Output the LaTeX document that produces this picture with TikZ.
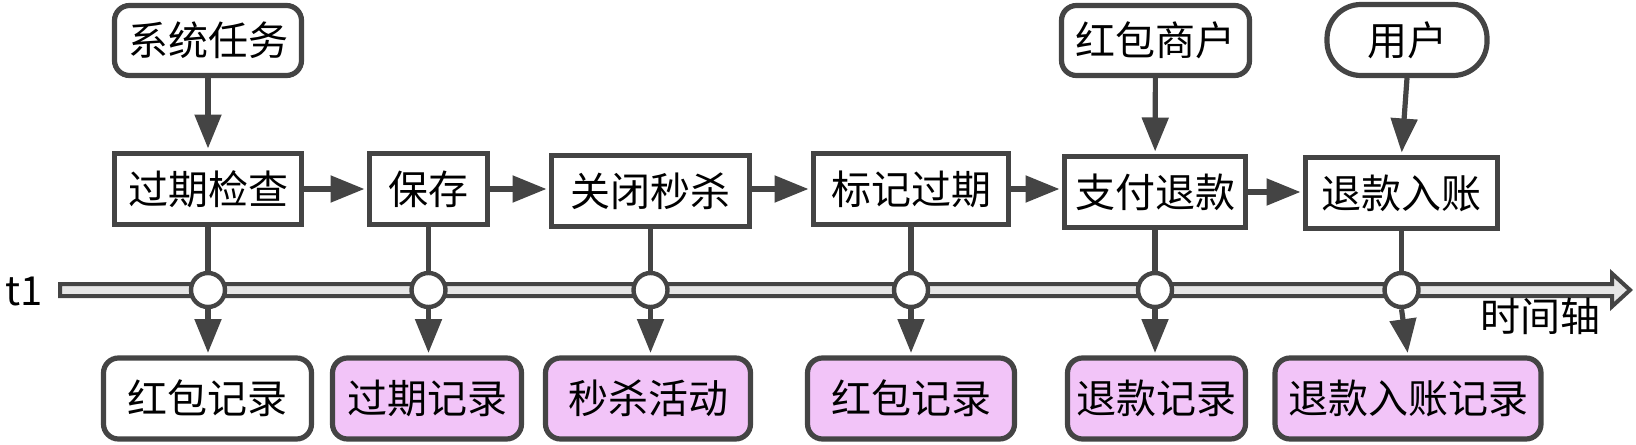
\documentclass[tikz,border=0pt]{standalone}
\usepackage{fontspec}
\setmainfont{Noto Sans CJK SC}
\usetikzlibrary{arrows.meta}
\definecolor{ln}{HTML}{444444}
\definecolor{pk}{HTML}{F2C4F8}
\definecolor{tl}{HTML}{E6E6E6}
\tikzset{
  base/.style={draw=ln, line width=2.6pt, inner sep=0pt, text=black,
               font=\fontsize{20pt}{24pt}\selectfont},
  rbox/.style={base, rounded corners=7.5pt, fill=white, minimum height=35pt},
  sbox/.style={base, fill=white, minimum height=35.5pt},
  pbox/.style={base, rounded corners=7.5pt, fill=pk, minimum height=40.5pt},
  wbox/.style={base, rounded corners=7.5pt, fill=white, minimum height=40.5pt},
  dot/.style={circle, draw=ln, line width=2.2pt, fill=white, minimum size=17pt, inner sep=0pt},
  conn/.style={draw=ln, line width=2.6pt},
  arr/.style={conn, -{Triangle[length=17pt,width=13pt]}, shorten >=1.2pt},
  lbl/.style={inner sep=0pt, text=black, font=\fontsize{20pt}{24pt}\selectfont},
}
\begin{document}
\begin{tikzpicture}[x=0.5pt,y=-0.5pt]
\useasboundingbox (0,0) rectangle (1636,444);
% timeline
\draw[fill=tl, draw=ln, line width=2pt, line join=miter]
  (60,284) -- (1612,284) -- (1612,273.5) -- (1630,290) -- (1612,306.5)
  -- (1612,296) -- (60,296) -- cycle;
\node[lbl] (t1) at (24,291) {t1};
\node[lbl] (axis) at (1540,316) {时间轴};
% top row
\node[rbox, minimum width=93.5pt] (sys) at (208,40.5) {系统任务};
\node[rbox, minimum width=94pt] (mer) at (1155.5,40.5) {红包商户};
\node[rbox, minimum width=80pt, minimum height=35.5pt, rounded corners=17pt] (usr) at (1407,40) {用户};
% middle row
\node[sbox, minimum width=93.5pt] (chk) at (208,189) {过期检查};
\node[sbox, minimum width=59pt] (sav) at (428.5,189) {保存};
\node[sbox, minimum width=99pt] (cls) at (650.5,191) {关闭秒杀};
\node[sbox, minimum width=97.5pt] (mrk) at (911,189) {标记过期};
\node[sbox, minimum width=90.5pt] (pay) at (1155,192) {支付退款};
\node[sbox, minimum width=96pt] (inc) at (1401.5,193) {退款入账};
% circles on timeline
\node[dot] (c1) at (208,290) {};
\node[dot] (c2) at (428.5,290) {};
\node[dot] (c3) at (650.5,290) {};
\node[dot] (c4) at (911,290) {};
\node[dot] (c5) at (1155,290) {};
\node[dot] (c6) at (1401.5,290) {};
% bottom row
\node[wbox, minimum width=104pt] (b1) at (207.5,398.5) {红包记录};
\node[pbox, minimum width=94.5pt] (b2) at (427,398.5) {过期记录};
\node[pbox, minimum width=102.5pt] (b3) at (648,398.5) {秒杀活动};
\node[pbox, minimum width=103.5pt] (b4) at (911,398.5) {红包记录};
\node[pbox, minimum width=89pt] (b5) at (1156.5,398.5) {退款记录};
\node[pbox, minimum width=133pt] (b6) at (1408,398.5) {退款入账记录};
% connectors
\draw[arr] (sys) -- (chk);
\draw[arr] (mer) -- (pay);
\draw[arr] (usr.south) -- (inc.north);
\draw[arr] (chk) -- (sav);
\draw[arr] (sav) -- (sav -| cls.west);
\draw[arr] (cls.east |- mrk) -- (mrk);
\draw[arr] (mrk) -- (mrk -| pay.west);
\draw[arr] (pay) -- (pay -| inc.west);
\draw[conn] (chk) -- (c1);
\draw[conn] (sav) -- (c2);
\draw[conn] (cls) -- (c3);
\draw[conn] (mrk) -- (c4);
\draw[conn] (pay) -- (c5);
\draw[conn] (inc) -- (c6);
\draw[arr] (c1) -- (b1.north -| c1);
\draw[arr] (c2) -- (b2.north -| c2);
\draw[arr] (c3) -- (b3.north -| c3);
\draw[arr] (c4) -- (b4.north -| c4);
\draw[arr] (c5) -- (b5.north -| c5);
\draw[arr] (c6.south) -- (b6.north);
\end{tikzpicture}
\end{document}
